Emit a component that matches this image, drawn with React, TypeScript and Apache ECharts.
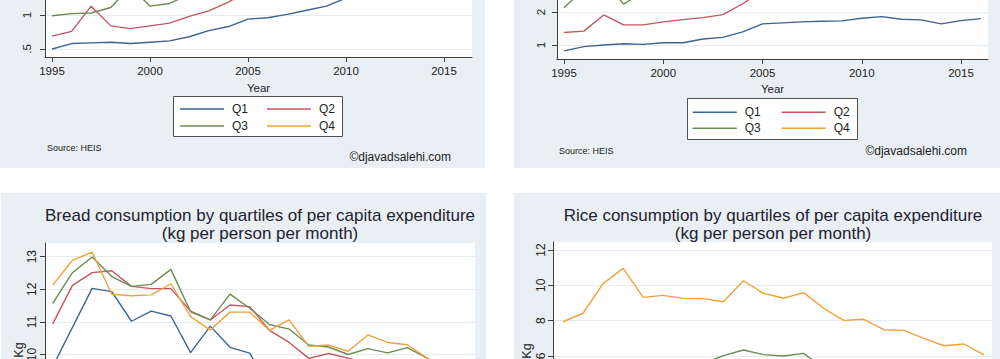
import React, { useEffect, useRef } from "react";
import * as echarts from "echarts";

// ---------- data ----------
const years = [1995, 1996, 1997, 1998, 1999, 2000, 2001, 2002, 2003, 2004, 2005, 2006, 2007, 2008, 2009, 2010, 2011, 2012, 2013, 2014, 2015, 2016];
const quartiles = ["Q1", "Q2", "Q3", "Q4"];
const xTickYears = [1995, 2000, 2005, 2010, 2015];

// top-left panel (values above the visible window are estimates)
const tlQ1 = [0.5, 0.58, 0.59, 0.6, 0.58, 0.6, 0.62, 0.68, 0.77, 0.83, 0.94, 0.96, 1.01, 1.07, 1.13, 1.25, 1.3, 1.33, 1.36, 1.32, 1.36, 1.4];
const tlQ2 = [0.69, 0.76, 1.13, 0.84, 0.8, 0.84, 0.88, 0.98, 1.06, 1.19, 1.35, 1.42, 1.5, 1.58, 1.66, 1.78, 1.86, 1.9, 1.94, 1.88, 1.94, 2.0];
const tlQ3 = [0.99, 1.02, 1.03, 1.11, 1.42, 1.13, 1.17, 1.3, 1.42, 1.58, 1.72, 1.78, 1.88, 1.96, 2.04, 2.14, 2.22, 2.26, 2.3, 2.26, 2.32, 2.38];
const tlQ4 = [1.55, 1.62, 1.75, 1.68, 1.72, 1.7, 1.8, 1.95, 2.1, 2.3, 2.55, 2.65, 2.75, 2.85, 2.95, 3.05, 3.12, 3.15, 3.2, 3.1, 3.18, 3.25];
const tlTicks = [0.5, 1];

// top-right panel
const trQ1 = [0.82, 0.95, 1.0, 1.04, 1.02, 1.07, 1.07, 1.18, 1.23, 1.4, 1.64, 1.67, 1.7, 1.72, 1.73, 1.81, 1.86, 1.78, 1.76, 1.64, 1.74, 1.8];
const trQ2 = [1.38, 1.42, 1.91, 1.61, 1.61, 1.7, 1.77, 1.83, 1.92, 2.25, 2.65, 2.8, 2.9, 2.95, 3.0, 3.1, 3.15, 3.1, 3.08, 3.0, 3.1, 3.2];
const trQ3 = [2.13, 2.7, 2.95, 2.24, 2.6, 2.7, 2.8, 2.95, 3.1, 3.4, 3.9, 4.0, 4.1, 4.15, 4.2, 4.3, 4.35, 4.3, 4.25, 4.1, 4.2, 4.3];
const trQ4 = [2.9, 3.3, 3.6, 3.1, 3.4, 3.5, 3.6, 3.8, 4.0, 4.4, 4.9, 5.0, 5.05, 5.1, 5.15, 5.2, 5.2, 5.1, 5.05, 4.9, 5.0, 5.1];
const trTicks = [1, 2];

// bread (kg per person per month)
const breadQ1 = [9.63, 10.83, 12.03, 11.93, 11.02, 11.33, 11.18, 10.06, 10.87, 10.22, 10.04, 9.0, 8.9, 8.6, 8.7, 8.5, 8.6, 8.4, 8.4, 8.2, 8.1, 8.0];
const breadQ2 = [10.94, 12.12, 12.51, 12.57, 12.09, 12.02, 12.02, 11.33, 11.06, 11.52, 11.47, 10.74, 10.37, 9.88, 10.03, 9.89, 9.7, 9.55, 9.5, 9.35, 9.2, 9.1];
const breadQ3 = [11.57, 12.51, 12.99, 12.39, 12.09, 12.15, 12.61, 11.31, 11.06, 11.85, 11.42, 10.92, 10.78, 10.29, 10.23, 10.0, 10.18, 10.05, 10.21, 9.89, 9.6, 9.5];
const breadQ4 = [12.13, 12.89, 13.14, 11.85, 11.8, 11.83, 12.17, 11.16, 10.75, 11.3, 11.3, 10.74, 11.06, 10.25, 10.29, 10.1, 10.6, 10.37, 10.3, 9.89, 9.6, 9.55];
const breadTicks = [10, 11, 12, 13];

// rice (kg per person per month)
const riceQ1 = [1.9, 2.0, 2.3, 2.5, 2.3, 2.3, 2.4, 2.4, 2.5, 2.7, 2.6, 2.6, 2.7, 2.4, 2.2, 2.2, 2.1, 2.0, 1.9, 1.8, 1.8, 1.7];
const riceQ2 = [3.3, 3.5, 3.9, 4.1, 3.8, 3.9, 3.9, 4.0, 4.1, 4.4, 4.3, 4.2, 4.3, 3.9, 3.6, 3.6, 3.4, 3.4, 3.2, 3.0, 3.1, 2.9];
const riceQ3 = [4.6, 5.0, 5.4, 5.6, 5.3, 5.4, 5.45, 5.6, 6.02, 6.34, 6.08, 6.0, 6.15, 5.3, 5.1, 5.2, 4.8, 4.8, 4.6, 4.3, 4.4, 4.1];
const riceQ4 = [7.94, 8.42, 10.1, 10.96, 9.32, 9.43, 9.26, 9.25, 9.07, 10.26, 9.55, 9.27, 9.59, 8.7, 8.02, 8.08, 7.49, 7.45, 7.0, 6.58, 6.68, 6.06];
const riceTicks = [6, 8, 10, 12];

// texts
const breadTitle = "Bread consumption by quartiles of per capita expenditure";
const riceTitle = "Rice consumption by quartiles of per capita expenditure";
const unitSubtitle = "(kg per person per month)";
const sourceNote = "Source: HEIS";
const creditNote = "©djavadsalehi.com";
const xTitle = "Year";
const yTitle = "Kg";

// ---------- styles / layout ----------
const FONT = "'Liberation Sans', Arial, Helvetica, sans-serif";
const COLORS = ["#3c6392", "#c2575f", "#6c8b55", "#eea23c"];
const PANEL_BG = "#e9eff2";
const GRID_LINE = "#e4ecef";
const AXIS = "#404040";
const TEXT = "#222";

type Panel = {
  left: number; top: number; width: number; height: number;
  yearPx0: number; pxPerYear: number;
  yRefVal: number; yRefPx: number; pxPerUnit: number;
  ticks: number[]; values: number[][];
  yLabelMargin: number; xLabelMargin: number; xNameGap: number;
  labelSize: number; yName: string; showX: boolean;
};

const panels: Panel[] = [
  { left: 45, top: -155, width: 427, height: 212, yearPx0: 52, pxPerYear: 19.6, yRefVal: 1, yRefPx: 15, pxPerUnit: 68,
    ticks: tlTicks, values: [tlQ1, tlQ2, tlQ3, tlQ4], yLabelMargin: 12, xLabelMargin: 8, xNameGap: 21, labelSize: 11.5, yName: "", showX: true },
  { left: 557, top: -140, width: 431, height: 199, yearPx0: 564, pxPerYear: 19.85, yRefVal: 1, yRefPx: 45, pxPerUnit: 33,
    ticks: trTicks, values: [trQ1, trQ2, trQ3, trQ4], yLabelMargin: 10, xLabelMargin: 7.5, xNameGap: 21, labelSize: 11.5, yName: "", showX: true },
  { left: 45, top: 243, width: 430, height: 214, yearPx0: 52.7, pxPerYear: 19.7, yRefVal: 13, yRefPx: 256.7, pxPerUnit: 32.6,
    ticks: breadTicks, values: [breadQ1, breadQ2, breadQ3, breadQ4], yLabelMargin: 7, xLabelMargin: 8, xNameGap: 21, labelSize: 12, yName: yTitle, showX: false },
  { left: 553, top: 242, width: 439, height: 218, yearPx0: 563, pxPerYear: 20.05, yRefVal: 12, yRefPx: 250, pxPerUnit: 17.67,
    ticks: riceTicks, values: [riceQ1, riceQ2, riceQ3, riceQ4], yLabelMargin: 6.5, xLabelMargin: 8, xNameGap: 21, labelSize: 12, yName: yTitle, showX: false },
];

const fmtY = (v: number) => {
  const s = String(v);
  return s.startsWith("0.") ? s.slice(1) : s;
};

function buildOption() {
  const grid: any[] = [];
  const xAxis: any[] = [];
  const yAxis: any[] = [];
  const series: any[] = [];

  panels.forEach((p, pi) => {
    grid.push({
      left: p.left, top: p.top, width: p.width, height: p.height,
      show: true, backgroundColor: "#ffffff", borderWidth: 0,
      containLabel: false, outerBoundsMode: "none",
    });
    const xMin = years[0] - (p.yearPx0 - p.left) / p.pxPerYear;
    const xMax = years[0] + (p.left + p.width - p.yearPx0) / p.pxPerYear;
    const yMax = p.yRefVal + (p.yRefPx - p.top) / p.pxPerUnit;
    const yMin = p.yRefVal - (p.top + p.height - p.yRefPx) / p.pxPerUnit;
    xAxis.push({
      type: "value", gridIndex: pi, min: xMin, max: xMax,
      name: p.showX ? xTitle : "", nameLocation: "middle", nameGap: p.xNameGap,
      nameTextStyle: { fontFamily: FONT, fontSize: 11.5, color: TEXT },
      axisLine: { show: true, onZero: false, lineStyle: { color: AXIS, width: 1 } },
      axisTick: { show: true, length: 5, customValues: xTickYears, lineStyle: { color: AXIS, width: 1 } },
      axisLabel: { show: p.showX, customValues: xTickYears, formatter: (v: number) => String(Math.round(v)),
        margin: p.xLabelMargin, fontFamily: FONT, fontSize: p.labelSize, color: TEXT },
      splitLine: { show: false },
    });
    yAxis.push({
      type: "value", gridIndex: pi, min: yMin, max: yMax,
      name: p.yName, nameLocation: "middle", nameGap: 19,
      nameTextStyle: { fontFamily: FONT, fontSize: 12.5, color: TEXT },
      axisLine: { show: true, onZero: false, lineStyle: { color: AXIS, width: 1 } },
      axisTick: { show: true, length: 5, customValues: p.ticks, lineStyle: { color: AXIS, width: 1 } },
      axisLabel: { show: true, customValues: p.ticks, formatter: fmtY, rotate: 90,
        margin: p.yLabelMargin, fontFamily: FONT, fontSize: p.labelSize, color: TEXT },
      splitLine: { show: true, lineStyle: { color: GRID_LINE, width: 1 } },
    });
    p.values.forEach((vals, qi) => {
      series.push({
        type: "line", name: quartiles[qi], xAxisIndex: pi, yAxisIndex: pi,
        data: years.map((yr, i) => [yr, vals[i]]),
        showSymbol: false, symbol: "none", silent: true, clip: true,
        lineStyle: { width: 1.4, color: COLORS[qi] },
        itemStyle: { color: COLORS[qi] },
        z: 2 + qi,
      });
    });
  });

  const legendBase = {
    orient: "vertical", padding: 0, itemGap: 3, itemWidth: 44, itemHeight: 1.5, icon: "rect",
    selectedMode: false,
    textStyle: { fontFamily: FONT, fontSize: 12, color: TEXT, lineHeight: 14, padding: [0, 0, 0, 3] },
  };
  const legend = [
    { ...legendBase, left: 180, top: 102, data: ["Q1", "Q3"] },
    { ...legendBase, left: 267, top: 102, data: ["Q2", "Q4"] },
    { ...legendBase, left: 692.7, top: 105.3, itemGap: 2, data: ["Q1", "Q3"] },
    { ...legendBase, left: 781.7, top: 105.3, itemGap: 2, data: ["Q2", "Q4"] },
  ];

  const txt = (x: number, y: number, text: string, size: number, align: string, color = TEXT) => ({
    type: "text", x, y, z: 10, silent: true,
    style: {
      text, font: `${size}px ${FONT}`, fill: color,
      align, textAlign: align, verticalAlign: "middle", textVerticalAlign: "middle",
    },
  });
  const rect = (x: number, y: number, w: number, h: number, fill: string, z: number, stroke?: string) => ({
    type: "rect", z, silent: true,
    shape: { x, y, width: w, height: h },
    style: stroke ? { fill, stroke, lineWidth: 1 } : { fill },
  });

  const graphic = [
    rect(0, -10, 485, 178, PANEL_BG, -10),
    rect(514, -10, 500, 178, PANEL_BG, -10),
    rect(1, 193, 485, 200, PANEL_BG, -10),
    rect(514, 193, 500, 200, PANEL_BG, -10),
    rect(173.5, 96.5, 169, 40, "#ffffff", 1, "#505050"),
    rect(687.5, 98.5, 170, 41, "#ffffff", 1, "#505050"),
    txt(260, 215, breadTitle, 17, "center", "#1d2332"),
    txt(260, 233, unitSubtitle, 17, "center", "#1d2332"),
    txt(773, 215, riceTitle, 17, "center", "#1d2332"),
    txt(773, 233, unitSubtitle, 17, "center", "#1d2332"),
    txt(47, 148, sourceNote, 9, "left"),
    txt(559, 151, sourceNote, 9, "left"),
    txt(451, 156.5, creditNote, 12, "right"),
    txt(967, 151, creditNote, 12, "right"),
  ];

  return {
    animation: false,
    backgroundColor: "transparent",
    textStyle: { fontFamily: FONT },
    grid, xAxis, yAxis, series, legend, graphic,
  };
}

export default function App() {
  const ref = useRef<HTMLDivElement>(null);
  useEffect(() => {
    if (!ref.current) return;
    const chart = echarts.init(ref.current, undefined, { renderer: "svg" });
    chart.setOption(buildOption() as any);
    return () => chart.dispose();
  }, []);
  return (
    <div
      ref={ref}
      style={{ position: "absolute", left: 0, top: 0, width: 1000, height: 359, background: "#fff" }}
    />
  );
}
